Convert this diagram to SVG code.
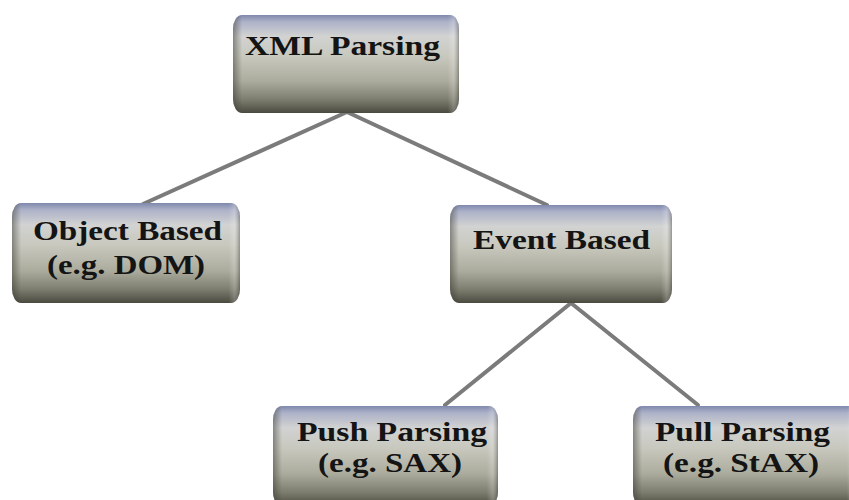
<svg xmlns="http://www.w3.org/2000/svg" width="849" height="500" viewBox="0 0 849 500">
  <defs>
    <linearGradient id="gv" x1="0" y1="0" x2="0" y2="1">
      <stop offset="0" stop-color="#8089ad"/>
      <stop offset="0.07" stop-color="#adb2c8"/>
      <stop offset="0.22" stop-color="#d2d3d2"/>
      <stop offset="0.42" stop-color="#c8c8be"/>
      <stop offset="0.68" stop-color="#abab9d"/>
      <stop offset="0.86" stop-color="#7e7e70"/>
      <stop offset="1" stop-color="#4a4a40"/>
    </linearGradient>
    <linearGradient id="gh" x1="0" y1="0" x2="1" y2="0">
      <stop offset="0" stop-color="#3a3a34" stop-opacity="0.5"/>
      <stop offset="0.04" stop-color="#3a3a34" stop-opacity="0"/>
      <stop offset="0.95" stop-color="#ffffff" stop-opacity="0"/>
      <stop offset="0.975" stop-color="#ffffff" stop-opacity="0.2"/>
      <stop offset="1" stop-color="#3a3a34" stop-opacity="0.4"/>
    </linearGradient>
  </defs>
  <style>
    .body { fill: url(#gv); }
    .shade { fill: url(#gh); }
    .lbl { font-family: "Liberation Serif", "Times New Roman", serif; font-weight: bold; font-size: 27px; fill: #141414; }
    .edge { stroke: #7b7b7b; stroke-width: 4; stroke-linecap: round; fill: none; }
  </style>
  <rect width="849" height="500" fill="#ffffff"/>
  <g id="connectors">
    <line class="edge" x1="347" y1="112" x2="143" y2="204"/>
    <line class="edge" x1="347" y1="112" x2="547" y2="205"/>
    <line class="edge" x1="571" y1="303" x2="445" y2="405"/>
    <line class="edge" x1="571" y1="303" x2="698" y2="405"/>
  </g>
  <g id="xml-parsing">
    <rect class="body" x="233" y="15" width="226" height="98" rx="9" ry="14"/>
    <rect class="shade" x="233" y="15" width="226" height="98" rx="9" ry="14"/>
    <text class="lbl" x="245" y="55" textLength="195" lengthAdjust="spacingAndGlyphs">XML Parsing</text>
  </g>
  <g id="object-based">
    <rect class="body" x="12" y="203" width="228" height="100" rx="9" ry="14"/>
    <rect class="shade" x="12" y="203" width="228" height="100" rx="9" ry="14"/>
    <text class="lbl" x="33" y="240" textLength="189" lengthAdjust="spacingAndGlyphs">Object Based</text>
    <text class="lbl" x="47" y="274" textLength="158" lengthAdjust="spacingAndGlyphs">(e.g. DOM)</text>
  </g>
  <g id="event-based">
    <rect class="body" x="450" y="205" width="222" height="98" rx="9" ry="14"/>
    <rect class="shade" x="450" y="205" width="222" height="98" rx="9" ry="14"/>
    <text class="lbl" x="473" y="249" textLength="177" lengthAdjust="spacingAndGlyphs">Event Based</text>
  </g>
  <g id="push-parsing">
    <rect class="body" x="273" y="406" width="225" height="100" rx="9" ry="14"/>
    <rect class="shade" x="273" y="406" width="225" height="100" rx="9" ry="14"/>
    <text class="lbl" x="297" y="441" textLength="190" lengthAdjust="spacingAndGlyphs">Push Parsing</text>
    <text class="lbl" x="318" y="472" textLength="144" lengthAdjust="spacingAndGlyphs">(e.g. SAX)</text>
  </g>
  <g id="pull-parsing">
    <rect class="body" x="633" y="406" width="225" height="100" rx="9" ry="14"/>
    <rect class="shade" x="633" y="406" width="225" height="100" rx="9" ry="14"/>
    <text class="lbl" x="655" y="441" textLength="175" lengthAdjust="spacingAndGlyphs">Pull Parsing</text>
    <text class="lbl" x="663" y="472" textLength="156" lengthAdjust="spacingAndGlyphs">(e.g. StAX)</text>
  </g>
</svg>
